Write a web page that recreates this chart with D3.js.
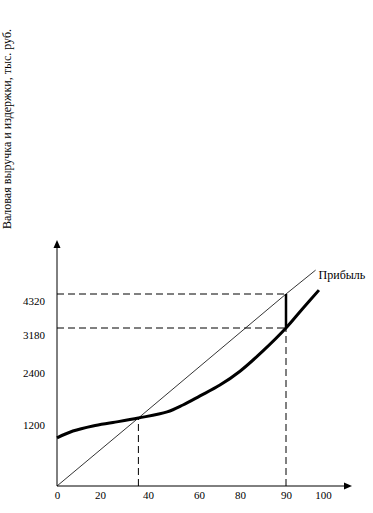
<!DOCTYPE html>
<html>
<head>
<meta charset="utf-8">
<script src="https://cdn.jsdelivr.net/npm/d3@7"></script>
<style>
  body { margin: 0; background: #fff; }
  svg text { font-family: "Liberation Serif", "Times New Roman", serif; fill: #000; }
</style>
</head>
<body>
<div id="chart"></div>
<script>
const width = 373,
  height = 513;

// tick labels of the schematic (axes are not to scale)
const xTicks = [0, 20, 40, 60, 80, 90, 100];
const yTicks = [1200, 2400, 3180, 4320];

// revenue (thin line)
const revenueX = [0, 36, 90, 98];
const revenueY = [0, 1200, 4320, 5120];

// costs (thick curve)
const costX = [0, 7.4, 16.7, 25.4, 36, 47.5, 53.7, 60.5, 70.2, 80, 85, 90, 94.3, 98.9];
const costY = [850, 970, 1060, 1120, 1200, 1340, 1500, 1710, 1960, 2280, 2710, 3180, 3800, 4450];

const breakEvenX = 36, breakEvenY = 1200;
const planX = 90, planRevenue = 4320, planCost = 3180;

// piecewise scales, the drawing is not proportional
const x = d3.scaleLinear()
  .domain(xTicks)
  .range([57, 100, 148, 199, 240, 286, 323]);
const y = d3.scaleLinear()
  .domain([0, ...yTicks])
  .range([486, 418, 366, 328, 294]);

const svg = d3.select("#chart")
  .append("svg")
  .attr("width", width)
  .attr("height", height)
  .attr("viewBox", [0, 0, width, height]);

// axes with arrows
const x0 = x(0), y0 = y(0);
svg.append("line")
  .attr("x1", x0).attr("y1", y0)
  .attr("x2", 348).attr("y2", y0)
  .attr("stroke", "black");
svg.append("path")
  .attr("d", `M352,${y0}L344,${y0 - 3.5}L344,${y0 + 3.5}Z`)
  .attr("fill", "black");
svg.append("line")
  .attr("x1", x0).attr("y1", y0)
  .attr("x2", x0).attr("y2", 245)
  .attr("stroke", "black");
svg.append("path")
  .attr("d", `M${x0},240L${x0 - 3.5},248L${x0 + 3.5},248Z`)
  .attr("fill", "black");

// tick labels
const gx = svg.append("g")
  .attr("transform", `translate(0,${y0})`)
  .call(d3.axisBottom(x).tickValues(xTicks).tickSize(0).tickPadding(5).tickFormat(d3.format("d")));
gx.select(".domain").remove();
gx.selectAll("text").style("font-size", "11px").style("font-family", null);

const gy = svg.append("g")
  .attr("transform", `translate(${x0},0)`)
  .call(d3.axisLeft(y).tickValues(yTicks).tickSize(0).tickPadding(12).tickFormat(d3.format("d")));
gy.select(".domain").remove();
gy.selectAll("text").attr("dy", "0.93em").style("font-size", "11px").style("font-family", null);

// dashed guide lines
const guides = [
  [[0, planRevenue], [planX, planRevenue]],
  [[0, planCost], [planX, planCost]],
  [[breakEvenX, 0], [breakEvenX, breakEvenY]],
  [[planX, 0], [planX, planCost]]
];
svg.append("g")
  .selectAll("line")
  .data(guides)
  .join("line")
  .attr("x1", d => x(d[0][0]))
  .attr("y1", d => y(d[0][1]))
  .attr("x2", d => x(d[1][0]))
  .attr("y2", d => y(d[1][1]))
  .attr("stroke", "black")
  .attr("stroke-dasharray", "7,4");

// revenue line
const line = d3.line().x(d => x(d[0])).y(d => y(d[1]));
svg.append("path")
  .datum(revenueX.map((v, i) => [v, revenueY[i]]))
  .attr("d", line)
  .attr("fill", "none")
  .attr("stroke", "black")
  .attr("stroke-width", 0.8);

// cost curve
svg.append("path")
  .datum(costX.map((v, i) => [v, costY[i]]))
  .attr("d", line.curve(d3.curveCatmullRom))
  .attr("fill", "none")
  .attr("stroke", "black")
  .attr("stroke-width", 3);

// profit segment
svg.append("line")
  .attr("x1", x(planX)).attr("y1", y(planRevenue))
  .attr("x2", x(planX)).attr("y2", y(planCost))
  .attr("stroke", "black")
  .attr("stroke-width", 2.5);

svg.append("text")
  .attr("x", x(revenueX[3]) + 3)
  .attr("y", y(revenueY[3]))
  .attr("dy", "0.75em")
  .style("font-size", "12px")
  .text("Прибыль");

// y axis title
svg.append("text")
  .attr("transform", "translate(11,129) rotate(-90)")
  .attr("text-anchor", "middle")
  .style("font-size", "12px")
  .text("Валовая выручка и издержки, тыс. руб.");
</script>
</body>
</html>
